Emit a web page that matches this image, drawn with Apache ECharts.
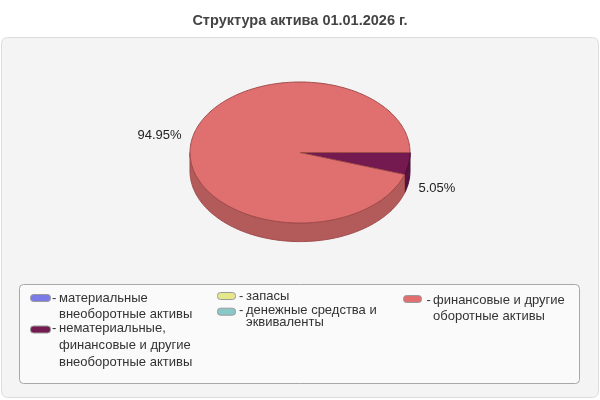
<!DOCTYPE html>
<html><head><meta charset="utf-8">
<script src="https://cdn.jsdelivr.net/npm/echarts@6/dist/echarts.min.js"></script>
<style>html,body{margin:0;padding:0;background:#fff}#c{width:600px;height:400px}</style>
</head><body><div id="c"></div>
<script>
// ---- data ----
const titleText = 'Структура актива 01.01.2026 г.';
const categories = [
  'материальные\nвнеоборотные активы',
  'нематериальные,\nфинансовые и другие\nвнеоборотные активы',
  'запасы',
  'денежные средства и\nэквиваленты',
  'финансовые и другие\nоборотные активы'
];
const values = [0, 5.05, 0, 0, 94.95];

// ---- styles ----
const topColors  = ['#7b7be8', '#751a50', '#e6e68c', '#8ac8c8', '#e07070'];
const sideColors = ['#5f5fb4', '#5a1240', '#b4b46c', '#6a9c9c', '#b35a5a'];
const edgeColors = ['#4a4a90', '#4a0e34', '#909050', '#507a7a', '#a04a4a'];

// legend layout (positions only)
const legendSlots = [
  {ix: 30,  iw: 20, icy: 298,   dx: 52,    tx: 59,  ty: 298.3, lh: 16.5},
  {ix: 30,  iw: 20, icy: 329.5, dx: 52,    tx: 59,  ty: 328.5, lh: 16.8},
  {ix: 217, iw: 18, icy: 296,   dx: 239,   tx: 246, ty: 296,   lh: 12},
  {ix: 217, iw: 18, icy: 311.7, dx: 239,   tx: 246, ty: 310.7, lh: 12},
  {ix: 403, iw: 18, icy: 299,   dx: 426.5, tx: 433, ty: 300,   lh: 16.5}
];

const FONT = '13px "Liberation Sans", Arial, sans-serif';

function arcPts(cx, cy, rx, ry, a1, a2, dy) {
  const pts = [];
  const n = Math.max(2, Math.ceil((a2 - a1) / (Math.PI / 180)));
  for (let k = 0; k <= n; k++) {
    const t = a1 + (a2 - a1) * k / n;
    pts.push([cx + rx * Math.cos(t), cy + ry * Math.sin(t) + (dy || 0)]);
  }
  return pts;
}

function renderItem(params, api) {
  const i = params.dataIndex;
  const v = api.value(0);
  if (!v) return null;
  const total = values.reduce((a, b) => a + b, 0);
  let before = 0;
  for (let k = 0; k < i; k++) before += values[k];
  const a1 = before / total * 2 * Math.PI;
  const a2 = (before + v) / total * 2 * Math.PI;
  const W = api.getWidth(), H = api.getHeight();
  const cx = W * 0.5, cy = H * 0.38125, rx = W * 0.18333, ry = H * 0.17625, depth = H * 0.0465;
  const children = [];
  // side (front half only: 0..PI)
  const s = Math.max(a1, 0), e = Math.min(a2, Math.PI);
  if (e > s) {
    const topArc = arcPts(cx, cy, rx, ry, s, e, 0);
    const botArc = arcPts(cx, cy, rx, ry, s, e, depth).reverse();
    children.push({
      type: 'polygon', z2: 1,
      shape: {points: topArc.concat(botArc)},
      style: {fill: sideColors[i], stroke: edgeColors[i], lineWidth: 1}
    });
  }
  // top face
  const pts = [[cx, cy]].concat(arcPts(cx, cy, rx, ry, a1, a2, 0));
  children.push({
    type: 'polygon', z2: 10,
    shape: {points: pts},
    style: {fill: topColors[i], stroke: edgeColors[i], lineWidth: 1, lineJoin: 'round'}
  });
  // label
  const mid = (a1 + a2) / 2;
  const c = Math.cos(mid), sn = Math.sin(mid);
  const lx = cx + (rx + 10) * c;
  const ly = cy + (ry + 37) * sn + (sn > 0 ? depth : 0);
  children.push({
    type: 'text', z2: 20,
    style: {
      text: (v / total * 100).toFixed(2) + '%',
      x: lx, y: ly,
      align: c < 0 ? 'right' : 'left',
      verticalAlign: 'middle',
      font: FONT, fill: '#222'
    }
  });
  return {type: 'group', children: children};
}

const graphics = [
  {type: 'rect', z: 0, shape: {x: 1.5, y: 37.5, width: 597, height: 360, r: 6},
   style: {fill: '#f4f4f4', stroke: '#dcdcdc', lineWidth: 1}},
  {type: 'rect', z: 1, shape: {x: 19.5, y: 284.5, width: 560, height: 99, r: 4},
   style: {fill: '#fafafa', stroke: '#a8a8a8', lineWidth: 1}}
];
categories.forEach((name, i) => {
  const sl = legendSlots[i];
  graphics.push({
    type: 'rect', z: 2,
    shape: {x: sl.ix + 0.5, y: sl.icy - 3.5, width: sl.iw, height: 7, r: 3},
    style: {fill: topColors[i], stroke: '#9a9a9a', lineWidth: 1}
  });
  graphics.push({
    type: 'text', z: 2,
    style: {text: '-', x: sl.dx, y: sl.ty, verticalAlign: 'middle', font: FONT, fill: '#333'}
  });
  graphics.push({
    type: 'text', z: 2,
    style: {text: name, x: sl.tx, y: sl.ty - sl.lh / 2, verticalAlign: 'top',
            lineHeight: sl.lh, font: FONT, fill: '#333'}
  });
});

const chart = echarts.init(document.getElementById('c'), null, {renderer: 'canvas'});
chart.setOption({
  animation: false,
  backgroundColor: '#ffffff',
  title: {
    text: titleText, left: 'center', top: 13, padding: 0,
    textStyle: {fontSize: 14.5, fontWeight: 'bold', color: '#444444', fontFamily: '"Liberation Sans", Arial, sans-serif'}
  },
  graphic: graphics,
  series: [{
    type: 'custom',
    coordinateSystem: 'none',
    silent: true,
    renderItem: renderItem,
    data: values.map((v, i) => ({value: [v], name: categories[i]}))
  }]
});
</script>
</body></html>
